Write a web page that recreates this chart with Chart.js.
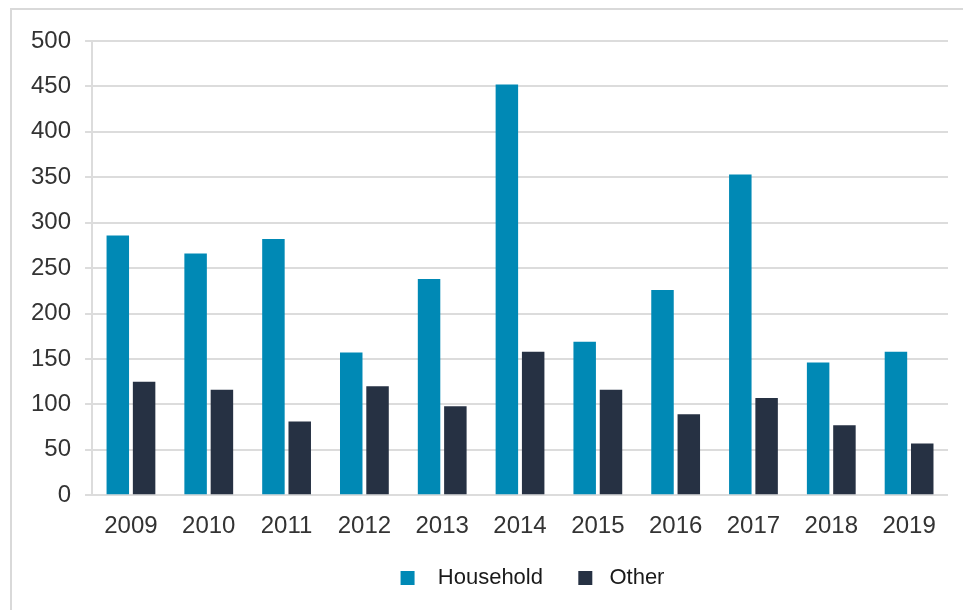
<!DOCTYPE html>
<html>
<head>
<meta charset="utf-8">
<script src="https://cdn.jsdelivr.net/npm/chart.js@4"></script>
<style>
  html, body { margin: 0; padding: 0; background: #fff; overflow: hidden; }
  #frame {
    position: absolute; left: 10px; top: 8px;
    width: 1000px; height: 700px;
    border-left: 2px solid #d9d9d9; border-top: 2px solid #d9d9d9;
  }
  #wrap { position: absolute; left: 0; top: 0; width: 963px; height: 610px; }
</style>
</head>
<body>
<div id="frame"></div>
<div id="wrap"><canvas id="chart"></canvas></div>
<script>
// years on the x axis
const YEARS = ['2009','2010','2011','2012','2013','2014','2015','2016','2017','2018','2019'];
// series values
const HOUSEHOLD = [286, 266, 282, 157, 238, 452, 169, 226, 353, 146, 158];
const OTHER = [125, 116, 81, 120, 98, 158, 116, 89, 107, 77, 57];

const TICK_FONT = { family: 'Liberation Sans, Arial, sans-serif', size: 24 };

// the legend sits a bit right of the canvas centre in the original
const legendShift = {
  id: 'legendShift',
  afterLayout(chart) {
    chart.legend.left += 50;
    chart.legend.right += 50;
  }
};

const chart = new Chart(document.getElementById('chart'), {
  type: 'bar',
  data: {
    labels: YEARS,
    datasets: [
      {
        label: '  Household   ',
        data: HOUSEHOLD,
        backgroundColor: '#0089B5',
        categoryPercentage: 0.676,
        barPercentage: 0.855
      },
      {
        label: ' Other',
        data: OTHER,
        backgroundColor: '#263143',
        categoryPercentage: 0.676,
        barPercentage: 0.855
      }
    ]
  },
  options: {
    responsive: true,
    maintainAspectRatio: false,
    animation: false,
    layout: { padding: { top: 41, right: 15, left: 17, bottom: 11 } },
    plugins: {
      tooltip: { enabled: false },
      legend: {
        position: 'bottom',
        labels: {
          color: '#1a1a1a',
          font: { family: 'Liberation Sans, Arial, sans-serif', size: 22 },
          boxWidth: 14,
          boxHeight: 14,
          padding: 17
        }
      }
    },
    scales: {
      x: {
        grid: { display: false },
        border: { display: false },
        ticks: { color: '#333', font: TICK_FONT, padding: 9, maxRotation: 0 }
      },
      y: {
        min: 0,
        max: 500,
        ticks: { stepSize: 50, color: '#333', font: TICK_FONT, padding: 14 },
        grid: { color: '#dcdcdc', lineWidth: 2, tickLength: 7 },
        border: { display: true, color: '#dcdcdc', width: 2 }
      }
    }
  },
  plugins: [legendShift]
});
</script>
</body>
</html>
